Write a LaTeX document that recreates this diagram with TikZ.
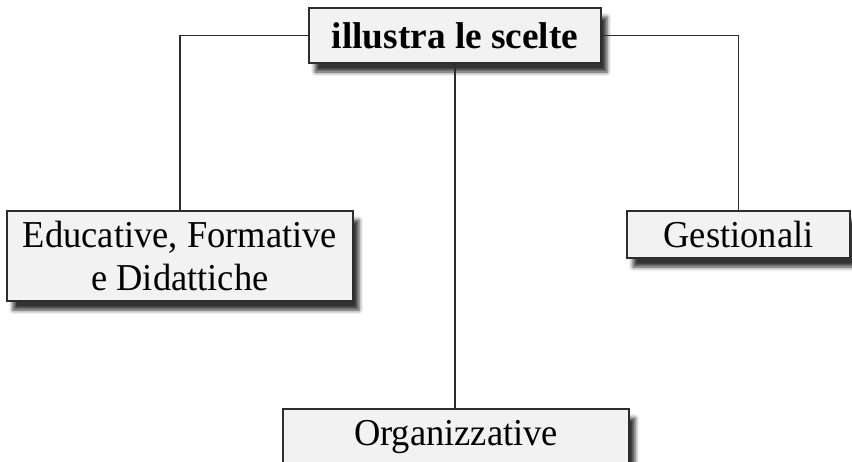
\documentclass[tikz,border=0pt]{standalone}
\usepackage{fontspec}
\setmainfont{Liberation Serif}
\newfontfamily\stretto{Liberation Serif}[FakeStretch=0.96]     %Carattere un po' stretto
\usetikzlibrary{shadows.blur}
\definecolor{grigiobox}{RGB}{242,242,242}
\definecolor{bordo}{RGB}{45,45,45}
\tikzstyle{scelta} = [draw=bordo, line width=1.4pt, rectangle, fill=grigiobox, inner sep=0pt, align=center, font=\stretto\fontsize{38}{43}\selectfont, blur shadow={shadow xshift=6pt, shadow yshift=-9pt, shadow blur radius=4pt, shadow opacity=80}]
\tikzstyle{linea} = [draw=bordo, line width=1.4pt]

\begin{document}
\begin{tikzpicture}[x=1pt, y=-1pt]
	\useasboundingbox (0,0) rectangle (852,461);     %Dimensioni della pagina
	\node [scelta, minimum width=292pt, minimum height=55pt, font=\bfseries\fontsize{37.3}{43}\selectfont] (titolo) at (455,35.5) {illustra le scelte};
	\node [scelta, minimum width=346pt, minimum height=90pt] (educ) at (180,256) {Educative, Formative\\e Didattiche};
	\node [scelta, minimum width=223pt, minimum height=47pt] (gest) at (738.5,234.5) {Gestionali};
	\node [scelta, minimum width=346pt, minimum height=60pt, text height=25pt, text depth=13pt] (org) at (456,439) {Organizzative};     %Box tagliato in basso
	\draw [linea] (titolo.west) -| (educ.north);
	\draw [linea] (titolo.east) -| (gest.north);
	\draw [linea] (titolo.south) -- (titolo.south |- org.north);
\end{tikzpicture}
\end{document}
